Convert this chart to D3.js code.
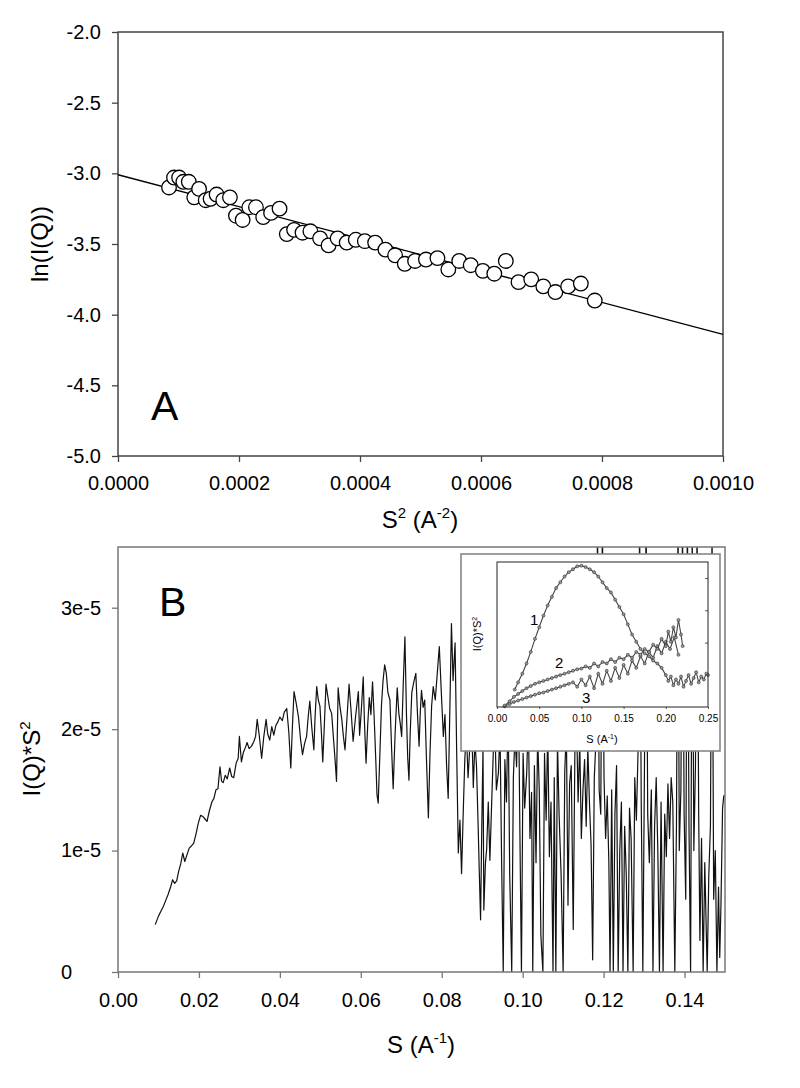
<!DOCTYPE html>
<html>
<head>
<meta charset="utf-8">
<script src="https://cdn.jsdelivr.net/npm/d3@7"></script>
<style>
body { margin: 0; background: #fff; }
svg text { font-family: "Liberation Sans", Arial, sans-serif; fill: #000; }
</style>
</head>
<body>
<svg id="chart" width="800" height="1088"></svg>
<script>
// ---- panel A : Guinier plot, ln(I) vs S^2 ----
var guinierPts = [
  [0.0000843,-3.10],[0.0000926,-3.03],[0.000101,-3.03],[0.000108,-3.06],[0.000117,-3.06],
  [0.000126,-3.17],[0.000134,-3.11],[0.000145,-3.19],[0.000153,-3.18],[0.000163,-3.15],
  [0.000174,-3.19],[0.000185,-3.17],[0.000195,-3.30],[0.000206,-3.33],[0.000217,-3.24],
  [0.000228,-3.24],[0.000240,-3.31],[0.000253,-3.28],[0.000267,-3.25],[0.000279,-3.43],
  [0.000291,-3.40],[0.000305,-3.42],[0.000318,-3.41],[0.000334,-3.46],[0.000348,-3.51],
  [0.000363,-3.46],[0.000378,-3.49],[0.000393,-3.47],[0.000408,-3.48],[0.000425,-3.49],
  [0.000442,-3.54],[0.000458,-3.58],[0.000474,-3.64],[0.000491,-3.62],[0.000509,-3.61],
  [0.000528,-3.60],[0.000546,-3.68],[0.000564,-3.62],[0.000583,-3.65],[0.000603,-3.69],
  [0.000622,-3.71],[0.000641,-3.62],[0.000662,-3.77],[0.000683,-3.75],[0.000703,-3.80],
  [0.000723,-3.84],[0.000744,-3.80],[0.000765,-3.78],[0.000788,-3.90]
];
var guinierFit = [[0, -3.01], [0.001, -4.14]];
var aXTicks = [0, 0.0002, 0.0004, 0.0006, 0.0008, 0.0010];
var aXLabels = ["0.0000", "0.0002", "0.0004", "0.0006", "0.0008", "0.0010"];
var aYTicks = [-2.0, -2.5, -3.0, -3.5, -4.0, -4.5, -5.0];
var aYLabels = ["-2.0", "-2.5", "-3.0", "-3.5", "-4.0", "-4.5", "-5.0"];

// ---- panel B : Kratky plot, I*S^2 (units of 1e-6) vs S ----
var kratky = [
  [0.0092,3.9],[0.0100,4.6],[0.0106,5.0],[0.0112,5.4],[0.0118,5.9],[0.0124,6.4],[0.0130,7.0],
  [0.0135,7.6],[0.0140,7.3],[0.0145,7.5],[0.0150,8.3],[0.0155,8.9],[0.0160,9.8],[0.0165,9.1],
  [0.0170,9.6],[0.0176,10.2],[0.0182,10.4],[0.0187,10.6],[0.0193,11.4],[0.0198,12.2],[0.0204,12.9],
  [0.0210,12.8],[0.0215,12.6],[0.0220,12.4],[0.0226,13.3],[0.0232,14.0],[0.0237,14.3],[0.0242,15.0],
  [0.0247,15.1],[0.0252,16.9],[0.0256,15.7],[0.0260,15.6],[0.0265,16.2],[0.0270,15.9],[0.0276,16.8],
  [0.0281,16.1],[0.0286,16.0],[0.0292,17.2],[0.0297,17.6],[0.0300,19.4],[0.0305,17.3],[0.0310,18.1],
  [0.0315,18.5],[0.0319,18.9],[0.0324,18.4],[0.0330,18.6],[0.0336,19.0],[0.0340,19.4],[0.0344,20.8],
  [0.0349,19.5],[0.0355,17.6],[0.0360,19.3],[0.0366,20.8],[0.0370,19.6],[0.0375,19.1],[0.0380,20.2],
  [0.0385,19.5],[0.0390,20.3],[0.0395,20.6],[0.0400,21.0],[0.0406,20.7],[0.0411,21.4],[0.0417,21.7],
  [0.0422,19.8],[0.0427,16.8],[0.0431,20.2],[0.0435,23.1],[0.0440,22.2],[0.0446,21.0],[0.0451,19.2],
  [0.0456,17.9],[0.0461,18.8],[0.0466,19.4],[0.0470,21.0],[0.0474,22.3],[0.0479,20.1],[0.0484,18.3],
  [0.0487,21.0],[0.0491,23.5],[0.0495,22.4],[0.0499,21.9],[0.0503,19.5],[0.0506,17.3],[0.0510,20.4],
  [0.0514,23.7],[0.0518,22.8],[0.0523,21.7],[0.0528,21.3],[0.0533,19.0],[0.0537,17.2],[0.0540,15.7],
  [0.0544,23.4],[0.0548,22.0],[0.0553,20.8],[0.0557,19.4],[0.0561,18.3],[0.0566,21.0],[0.0571,23.7],
  [0.0576,21.5],[0.0581,19.0],[0.0587,21.0],[0.0594,23.1],[0.0597,19.5],[0.0601,21.4],[0.0606,24.3],
  [0.0609,20.6],[0.0613,17.2],[0.0617,20.3],[0.0621,22.6],[0.0625,21.2],[0.0629,23.9],[0.0633,21.0],
  [0.0637,17.5],[0.0640,14.6],[0.0643,13.9],[0.0647,17.8],[0.0651,21.9],[0.0655,24.0],[0.0659,25.3],
  [0.0663,24.6],[0.0667,23.0],[0.0672,22.4],[0.0676,18.5],[0.0680,15.1],[0.0685,19.8],[0.0690,23.4],
  [0.0694,21.3],[0.0697,20.6],[0.0701,19.4],[0.0705,23.8],[0.0709,27.6],[0.0713,21.0],[0.0716,17.6],
  [0.0719,15.8],[0.0722,19.6],[0.0726,23.0],[0.0731,23.9],[0.0736,24.6],[0.0740,21.3],[0.0744,18.6],
  [0.0747,21.4],[0.0750,23.2],[0.0754,21.8],[0.0758,22.4],[0.0762,17.8],[0.0767,12.7],[0.0771,18.0],
  [0.0775,21.9],[0.0779,23.5],[0.0784,22.4],[0.0789,24.6],[0.0794,26.8],[0.0799,23.0],[0.0804,19.4],
  [0.0808,21.2],[0.0812,17.0],[0.0816,14.3],[0.0820,21.5],[0.0824,28.7],[0.0828,24.0],[0.0833,27.1],
  [0.0837,18.0],[0.0841,9.8],[0.0845,12.5],[0.0849,8.1],[0.0853,13.0],[0.0857,17.5],[0.0861,19.8],
  [0.0865,16.0],[0.0869,18.3],[0.0873,22.0],[0.0878,15.2],[0.0882,19.0],[0.0886,16.9],[0.0890,12.0],
  [0.0893,8.0],[0.0896,4.3],[0.0899,12.0],[0.0902,18.5],[0.0904,5.1],[0.0908,9.0],[0.0911,10.1],
  [0.0915,14.0],[0.0919,9.2],[0.0923,13.5],[0.0927,17.7],[0.0931,21.0],[0.0935,15.0],[0.0940,16.4],
  [0.0944,20.0],[0.0948,9.0],[0.0952,0],[0.0956,17.5],[0.0960,14.0],[0.0964,22.0],[0.0968,8.0],
  [0.0973,0],[0.0977,16.0],[0.0981,19.5],[0.0985,16.9],[0.0989,25.0],[0.0993,12.0],[0.0997,0],
  [0.1001,18.0],[0.1005,13.5],[0.1010,16.4],[0.1014,21.0],[0.1018,11.0],[0.1022,14.8],[0.1025,0],
  [0.1029,17.0],[0.1033,9.0],[0.1037,19.5],[0.1041,15.0],[0.1045,3.0],[0.1050,0],[0.1054,18.0],
  [0.1058,12.5],[0.1062,20.0],[0.1066,9.5],[0.1070,14.0],[0.1075,0],[0.1078,16.0],[0.1082,0],
  [0.1086,19.0],[0.1090,13.0],[0.1095,8.0],[0.1100,0],[0.1104,16.5],[0.1108,20.0],[0.1112,5.5],
  [0.1116,15.5],[0.1120,17.0],[0.1125,3.5],[0.1129,18.0],[0.1133,21.0],[0.1137,14.0],[0.1141,19.0],
  [0.1145,11.0],[0.1149,15.0],[0.1153,17.5],[0.1157,12.0],[0.1161,18.5],[0.1165,14.0],[0.1169,10.5],
  [0.1173,1.0],[0.1177,16.0],[0.1181,19.0],[0.1185,37],[0.1189,15.0],[0.1193,13.0],[0.1197,38],
  [0.1201,16.0],[0.1205,11.0],[0.1209,14.5],[0.1213,9.0],[0.1216,0],[0.1220,15.0],[0.1224,0],
  [0.1228,13.0],[0.1232,17.0],[0.1236,0],[0.1240,10.0],[0.1244,14.0],[0.1248,0],[0.1252,12.0],
  [0.1256,8.0],[0.1260,0],[0.1264,13.5],[0.1268,11.0],[0.1273,0],[0.1277,16.0],[0.1281,12.5],
  [0.1285,18.0],[0.1289,37],[0.1293,14.0],[0.1297,0],[0.1301,17.0],[0.1305,38],[0.1309,13.0],
  [0.1313,9.0],[0.1318,15.0],[0.1322,0],[0.1326,12.0],[0.1330,16.0],[0.1334,10.0],[0.1338,0],
  [0.1342,14.0],[0.1347,0],[0.1351,13.0],[0.1355,9.5],[0.1359,15.5],[0.1363,11.0],[0.1367,16.0],
  [0.1371,14.0],[0.1376,0],[0.1380,12.0],[0.1384,38],[0.1387,10.0],[0.1391,15.0],[0.1395,37],
  [0.1399,13.0],[0.1403,6.0],[0.1407,38],[0.1411,12.0],[0.1415,0],[0.1419,37],[0.1423,10.0],
  [0.1427,17.0],[0.1431,37],[0.1435,13.0],[0.1438,2.6],[0.1442,11.0],[0.1446,0],[0.1450,9.0],
  [0.1456,0],[0.1460,8.0],[0.1464,12.0],[0.1468,37],[0.1472,6.0],[0.1476,10.0],[0.1480,0],
  [0.1484,7.0],[0.1487,1.2],[0.1490,5.5],[0.1494,13.5],[0.1497,14.5],[0.1500,14.5]
];
var bXTicks = [0, 0.02, 0.04, 0.06, 0.08, 0.10, 0.12, 0.14];
var bXLabels = ["0.00", "0.02", "0.04", "0.06", "0.08", "0.10", "0.12", "0.14"];
var bYTicks = [0, 10, 20, 30];
var bYLabels = ["0", "1e-5", "2e-5", "3e-5"];

// ---- inset : three Kratky curves (relative units) ----
var inset1 = [
  [0.021,0.12],[0.025,0.17],[0.030,0.23],[0.035,0.30],[0.040,0.38],[0.045,0.47],[0.050,0.55],
  [0.055,0.63],[0.060,0.70],[0.065,0.76],[0.070,0.82],[0.075,0.86],[0.080,0.90],[0.085,0.93],
  [0.090,0.95],[0.095,0.97],[0.100,0.975],[0.105,0.965],[0.110,0.95],[0.115,0.93],[0.120,0.90],
  [0.125,0.86],[0.130,0.82],[0.135,0.79],[0.140,0.74],[0.145,0.69],[0.150,0.64],[0.155,0.57],
  [0.160,0.50],[0.165,0.45],[0.170,0.40],[0.175,0.37],[0.180,0.35],[0.185,0.32],[0.190,0.30],
  [0.195,0.27],[0.200,0.22],[0.203,0.18],[0.206,0.21],[0.209,0.15],[0.212,0.19],[0.215,0.16],
  [0.218,0.21],[0.221,0.14],[0.224,0.18],[0.227,0.22],[0.230,0.16],[0.233,0.20],[0.236,0.24],
  [0.239,0.17],[0.242,0.21],[0.245,0.19],[0.248,0.23],[0.250,0.22]
];
var inset2 = [
  [0.009,0.01],[0.015,0.04],[0.020,0.07],[0.025,0.09],[0.030,0.11],[0.035,0.13],[0.040,0.145],
  [0.045,0.16],[0.050,0.17],[0.055,0.18],[0.060,0.19],[0.065,0.20],[0.070,0.21],[0.075,0.22],
  [0.080,0.23],[0.085,0.24],[0.090,0.25],[0.095,0.26],[0.100,0.265],[0.105,0.28],[0.110,0.27],
  [0.115,0.30],[0.120,0.28],[0.125,0.31],[0.130,0.30],[0.135,0.33],[0.140,0.31],[0.145,0.34],
  [0.150,0.33],[0.155,0.36],[0.160,0.34],[0.165,0.38],[0.170,0.36],[0.175,0.40],[0.180,0.38],
  [0.185,0.43],[0.190,0.40],[0.195,0.47],[0.200,0.42],[0.203,0.52],[0.206,0.45],[0.209,0.55],
  [0.212,0.48],[0.215,0.60],[0.218,0.50],[0.220,0.42]
];
var inset3 = [
  [0.009,0.005],[0.015,0.02],[0.020,0.035],[0.025,0.045],[0.030,0.055],[0.035,0.065],[0.040,0.075],
  [0.045,0.085],[0.050,0.095],[0.055,0.10],[0.060,0.11],[0.065,0.12],[0.070,0.13],[0.075,0.14],
  [0.080,0.15],[0.085,0.16],[0.090,0.17],[0.095,0.14],[0.100,0.19],[0.105,0.15],[0.110,0.21],
  [0.115,0.13],[0.120,0.23],[0.125,0.16],[0.130,0.25],[0.135,0.18],[0.140,0.27],[0.145,0.20],
  [0.150,0.29],[0.155,0.23],[0.160,0.32],[0.165,0.27],[0.170,0.35],[0.175,0.30],[0.180,0.38],
  [0.185,0.34],[0.190,0.42],[0.195,0.37],[0.200,0.45],[0.205,0.40],[0.210,0.48],[0.215,0.36]
];
var insetXTicks = [0, 0.05, 0.10, 0.15, 0.20, 0.25];
var insetXLabels = ["0.00", "0.05", "0.10", "0.15", "0.20", "0.25"];
var insetYTicks = [0.222, 0.444, 0.667, 0.889];

var svg = d3.select("#chart");

// write a label made of plain and superscript pieces
function richText(sel, parts, supSize, baseSize) {
    var up = false;
    parts.forEach(function(p) {
        var t = sel.append("tspan").text(p[0]);
        if (p[1]) {
            t.attr("font-size", supSize);
            if (!up) { t.attr("dy", -0.4 * baseSize); up = true; }
        } else if (up) {
            t.attr("dy", 0.4 * baseSize);
            up = false;
        }
    });
    return sel;
}

// ================= panel A =================
var ax = d3.scaleLinear().domain([0, 0.001]).range([118, 723]);
var ay = d3.scaleLinear().domain([-5, -2]).range([456, 32]);
var gA = svg.append("g");

gA.append("g")
    .attr("transform", "translate(0,456)")
    .call(d3.axisBottom(ax).tickValues(aXTicks).tickSize(6).tickPadding(14)
        .tickFormat(function(d, i) { return aXLabels[i]; }));
gA.append("g")
    .attr("transform", "translate(118,0)")
    .call(d3.axisLeft(ay).tickValues(aYTicks).tickSize(6).tickPadding(11)
        .tickFormat(function(d, i) { return aYLabels[i]; }));
gA.selectAll(".domain").remove();
gA.selectAll(".tick line").attr("stroke", "#444").attr("stroke-width", 1.3);
gA.selectAll(".tick text").attr("font-size", 20).attr("fill", "#111")
    .attr("font-family", "Liberation Sans, Arial, sans-serif");

gA.append("rect")
    .attr("x", ax(0)).attr("y", ay(-2))
    .attr("width", ax(0.001) - ax(0)).attr("height", ay(-5) - ay(-2))
    .attr("fill", "none").attr("stroke", "#444").attr("stroke-width", 1.5);

gA.append("path")
    .datum(guinierFit)
    .attr("fill", "none").attr("stroke", "#000").attr("stroke-width", 1.3)
    .attr("d", d3.line().x(function(d) { return ax(d[0]); }).y(function(d) { return ay(d[1]); }));

gA.selectAll("circle.pt")
    .data(guinierPts)
    .enter()
    .append("circle")
    .attr("class", "pt")
    .attr("cx", function(d) { return ax(d[0]); })
    .attr("cy", function(d) { return ay(d[1]); })
    .attr("r", 7.3)
    .attr("fill", "#fff").attr("stroke", "#000").attr("stroke-width", 1.3);

gA.append("text").attr("x", 151).attr("y", 420).attr("font-size", 41).text("A");

richText(gA.append("text").attr("x", 420).attr("y", 528).attr("font-size", 24)
    .attr("text-anchor", "middle"),
    [["S", false], ["2", true], [" (A", false], ["-2", true], [")", false]], 15, 24);

gA.append("text")
    .attr("transform", "translate(48,244) rotate(-90)")
    .attr("text-anchor", "middle").attr("font-size", 24)
    .text("ln(I(Q))");

// ================= panel B =================
var bx = d3.scaleLinear().domain([0, 0.15]).range([118, 725]);
var by = d3.scaleLinear().domain([0, 35]).range([972, 547]);
var gB = svg.append("g");

svg.append("defs").append("clipPath").attr("id", "clipB")
    .append("rect").attr("x", 118).attr("y", 547).attr("width", 607).attr("height", 425);

gB.append("g")
    .attr("transform", "translate(0,972)")
    .call(d3.axisBottom(bx).tickValues(bXTicks).tickSize(6).tickPadding(15)
        .tickFormat(function(d, i) { return bXLabels[i]; }));
var bLeft = gB.append("g")
    .attr("transform", "translate(118,0)")
    .call(d3.axisLeft(by).tickValues(bYTicks).tickSize(6).tickPadding(11)
        .tickFormat(function(d, i) { return bYLabels[i]; }));
bLeft.selectAll(".tick text").attr("text-anchor", "start").attr("x", 61 - 118);
gB.selectAll(".domain").remove();
gB.selectAll(".tick line").attr("stroke", "#777").attr("stroke-width", 1.3);
gB.selectAll(".tick text").attr("font-size", 20).attr("fill", "#111")
    .attr("font-family", "Liberation Sans, Arial, sans-serif");

gB.append("path")
    .datum(kratky)
    .attr("clip-path", "url(#clipB)")
    .attr("fill", "none").attr("stroke", "#111").attr("stroke-width", 1.2)
    .attr("stroke-linejoin", "round")
    .attr("d", d3.line().x(function(d) { return bx(d[0]); }).y(function(d) { return by(d[1]); }));

gB.append("rect")
    .attr("x", 118).attr("y", 547).attr("width", 607).attr("height", 425)
    .attr("fill", "none").attr("stroke", "#777").attr("stroke-width", 1.5);

gB.append("text").attr("x", 159).attr("y", 616).attr("font-size", 41).text("B");

richText(gB.append("text").attr("x", 421).attr("y", 1053).attr("font-size", 24)
    .attr("text-anchor", "middle"),
    [["S (A", false], ["-1", true], [")", false]], 15, 24);

richText(gB.append("text")
    .attr("transform", "translate(40,759) rotate(-90)")
    .attr("text-anchor", "middle").attr("font-size", 24),
    [["I(Q)*S", false], ["2", true]], 15, 24);

// ================= inset =================
var ix = d3.scaleLinear().domain([0, 0.25]).range([497, 708]);
var iy = d3.scaleLinear().domain([0, 1]).range([707, 562]);
var gI = svg.append("g");

gI.append("rect")
    .attr("x", 461).attr("y", 554).attr("width", 259).attr("height", 197)
    .attr("fill", "#fff").attr("stroke", "#888").attr("stroke-width", 1.6);

gI.append("g")
    .attr("transform", "translate(0,707)")
    .call(d3.axisBottom(ix).tickValues(insetXTicks).tickSize(2).tickPadding(6)
        .tickFormat(function(d, i) { return insetXLabels[i]; }));
gI.append("g")
    .attr("transform", "translate(708,0)")
    .call(d3.axisLeft(iy).tickValues(insetYTicks).tickSize(3).tickFormat(""));
gI.selectAll(".domain").remove();
gI.selectAll(".tick line").attr("stroke", "#555");
gI.selectAll(".tick text").attr("font-size", 10).attr("fill", "#333")
    .attr("font-family", "Liberation Sans, Arial, sans-serif");

var iLine = d3.line().x(function(d) { return ix(d[0]); }).y(function(d) { return iy(d[1]); });
[inset3, inset2, inset1].forEach(function(series) {
    gI.append("path").datum(series)
        .attr("fill", "none").attr("stroke", "#444").attr("stroke-width", 1.1)
        .attr("d", iLine);
    gI.selectAll(null).data(series).enter().append("circle")
        .attr("cx", function(d) { return ix(d[0]); })
        .attr("cy", function(d) { return iy(d[1]); })
        .attr("r", 1.5)
        .attr("fill", "#999").attr("stroke", "#333").attr("stroke-width", 0.6);
});

gI.append("rect")
    .attr("x", 497).attr("y", 562).attr("width", 211).attr("height", 145)
    .attr("fill", "none").attr("stroke", "#222").attr("stroke-width", 1);

gI.append("text").attr("x", 530).attr("y", 625).attr("font-size", 15).attr("fill", "#333").text("1");
gI.append("text").attr("x", 555).attr("y", 668).attr("font-size", 15).attr("fill", "#333").text("2");
gI.append("text").attr("x", 582).attr("y", 703).attr("font-size", 15).attr("fill", "#333").text("3");

richText(gI.append("text").attr("x", 602).attr("y", 743).attr("font-size", 11)
    .attr("text-anchor", "middle").attr("fill", "#333"),
    [["S (A", false], ["-1", true], [")", false]], 7, 11);

richText(gI.append("text")
    .attr("transform", "translate(481,634) rotate(-90)")
    .attr("text-anchor", "middle").attr("font-size", 11).attr("fill", "#333"),
    [["I(Q)*S", false], ["2", true]], 7, 11);
</script>
</body>
</html>
